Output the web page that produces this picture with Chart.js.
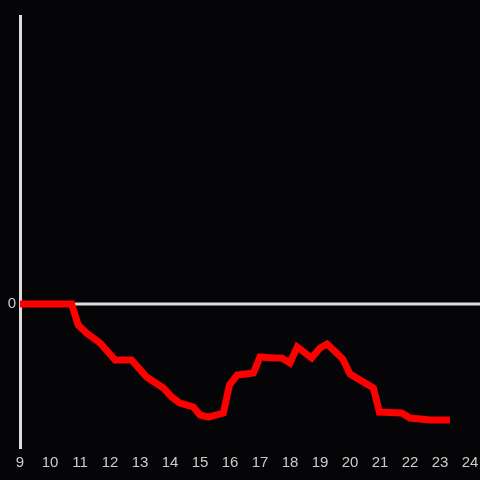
<!DOCTYPE html>
<html>
<head>
<meta charset="utf-8">
<script src="https://cdn.jsdelivr.net/npm/chart.js@4/dist/chart.umd.min.js"></script>
<style>
  html, body { margin: 0; padding: 0; background: #050406; }
  #wrap { width: 480px; height: 480px; }
</style>
</head>
<body>
<div id="wrap"><canvas id="chart" width="480" height="480"></canvas></div>
<script>
// Hours of the day (x) and the readings (y)
const hours = [9.0, 10.72, 10.94, 11.22, 11.67, 12.17, 12.72, 13.22, 13.78, 14.06, 14.33, 14.78,
    15.0, 15.28, 15.78, 15.98, 16.24, 16.78, 17.0, 17.44, 17.72, 18.0, 18.24, 18.72, 19.0, 19.24,
    19.76, 20.0, 20.78, 20.98, 21.72, 22.0, 22.67, 23.33];
const values = [0, 0, -0.146, -0.201, -0.271, -0.389, -0.389, -0.507, -0.583, -0.646, -0.688, -0.715,
    -0.771, -0.785, -0.757, -0.563, -0.493, -0.479, -0.368, -0.375, -0.375, -0.410, -0.299, -0.375, -0.306, -0.278,
    -0.382, -0.486, -0.583, -0.750, -0.757, -0.792, -0.806, -0.806];
const yTicks = [0];

const axisColor = '#dddddd';
const textColor = '#cccccc';

// Zero line drawn across to the right edge of the canvas
const zeroLine = {
    id: 'zeroLine',
    beforeDatasetsDraw(chart) {
        const { ctx, chartArea, scales } = chart;
        const y = scales.y.getPixelForValue(0);
        ctx.save();
        ctx.strokeStyle = axisColor;
        ctx.lineWidth = 3;
        ctx.beginPath();
        ctx.moveTo(chartArea.left, y);
        ctx.lineTo(chart.width, y);
        ctx.stroke();
        ctx.restore();
    }
};

new Chart(document.getElementById('chart'), {
    type: 'line',
    data: {
        datasets: [{
            data: hours.map((h, i) => ({ x: h, y: values[i] })),
            borderColor: '#ff0000',
            borderWidth: 7,
            pointRadius: 0,
            tension: 0,
            fill: false
        }]
    },
    options: {
        responsive: false,
        animation: false,
        layout: { padding: { top: 16, right: 10, left: 0, bottom: 0 } },
        plugins: { legend: { display: false }, tooltip: { enabled: false } },
        scales: {
            x: {
                type: 'linear',
                min: 9,
                max: 24,
                grid: { display: false, drawTicks: false },
                border: { display: false },
                ticks: {
                    stepSize: 1,
                    color: textColor,
                    font: { family: 'Liberation Sans', size: 15 },
                    padding: 6,
                    maxRotation: 0,
                    autoSkip: false
                },
                afterFit(scale) {
                    scale.height = 32;
                    scale.paddingLeft = 0;
                    scale.paddingRight = 0;
                }
            },
            y: {
                min: -1,
                max: 2,
                grid: { display: false, drawTicks: false },
                border: { color: axisColor, width: 3 },
                afterBuildTicks(scale) { scale.ticks = yTicks.map(v => ({ value: v })); },
                ticks: {
                    color: textColor,
                    font: { family: 'Liberation Sans', size: 15 },
                    padding: 4
                },
                afterFit(scale) { scale.width = 20; }
            }
        }
    },
    plugins: [zeroLine]
});
</script>
</body>
</html>
